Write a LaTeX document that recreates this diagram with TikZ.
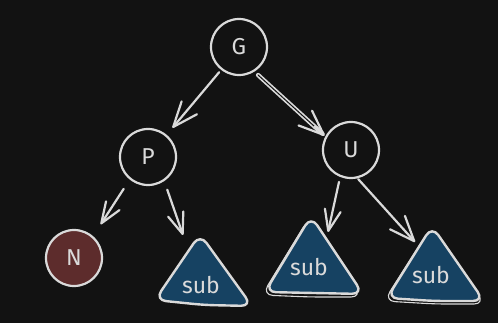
\documentclass[tikz,border=0pt]{standalone}
\usepackage{fontspec}
\setmainfont{Fira Sans}
\usetikzlibrary{arrows.meta,calc}
\definecolor{bg}{HTML}{121212}
\definecolor{ink}{HTML}{DADADA}
\definecolor{nred}{HTML}{5D2C2C}
\definecolor{subblue}{HTML}{164262}
\begin{document}
\begin{tikzpicture}[x=1pt,y=-1pt,
 every node/.style={text=ink, font=\fontsize{23}{27}\selectfont},
 vert/.style={circle, draw=ink, line width=2.2pt, minimum size=56pt, inner sep=0pt, fill=bg},
 leaf/.style={vert, fill=nred},
 edge/.style={draw=ink, line width=2.2pt, line cap=round, line join=round},
 bigtip/.style={-{Straight Barb[length=25pt,width=20pt,round]}},
 smalltip/.style={-{Straight Barb[length=21pt,width=16pt,round]}},
 tri/.style={fill=subblue, draw=ink, line width=2.4pt, rounded corners=11pt, line join=round},
 trisketch/.style={draw=ink, line width=1.1pt, rounded corners=11pt, line join=round},
 lbl/.style={font=\fontsize{23}{27}\selectfont},
]
\fill[bg] (0,0) rectangle (498,323);
\useasboundingbox (0,0) rectangle (498,323);

% nodes
\node[vert] (G) at (239,47) {G};
\node[vert] (P) at (148,157) {P};
\node[vert] (U) at (351,150) {U};
\node[leaf] (N) at (74,258) {N};

% sub triangles
\path[tri] (200,234) -- (252,306) -- (204,305) -- (155,300) -- cycle;
\node[lbl] (s1) at (201,285) {sub};

\path[trisketch] (309,218) -- (362,297) -- (310,297) -- (262,295) -- cycle;
\path[tri] (311,216) -- (363,294) -- (314,293) -- (265,292) -- cycle;
\node[lbl] (s2) at (309,267) {sub};

\path[trisketch] (430,229) -- (485,304) -- (435,304) -- (384,301) -- cycle;
\path[tri] (432,226) -- (484,301) -- (434,301) -- (387,298) -- cycle;
\node[lbl] (s3) at (431,275) {sub};

% arrow tip points near the triangles
\coordinate (t1) at (183,235);
\coordinate (t2) at (328,232);
\coordinate (t3) at (415,242);

% connectors
\draw[edge, bigtip, shorten <=3pt, shorten >=9pt] (G.232) -- (P.50);
\draw[edge, double=bg, double distance=1pt, line width=1.7pt, shorten <=5pt, shorten >=4pt] (G.302) -- (U.152);
\draw[edge, bigtip, shorten >=1pt] ($(G.302)!0.85!(U.152)$) -- (U.152);
\draw[edge, smalltip, shorten <=11pt, shorten >=14pt] (P.231) -- (N.49);
\draw[edge, smalltip, shorten <=9pt] (P.304) -- (t1);
\draw[edge, smalltip, shorten <=5pt] (U.248) -- (t2);
\draw[edge, bigtip, shorten <=1pt] (U.283) -- (t3);
\end{tikzpicture}
\end{document}
